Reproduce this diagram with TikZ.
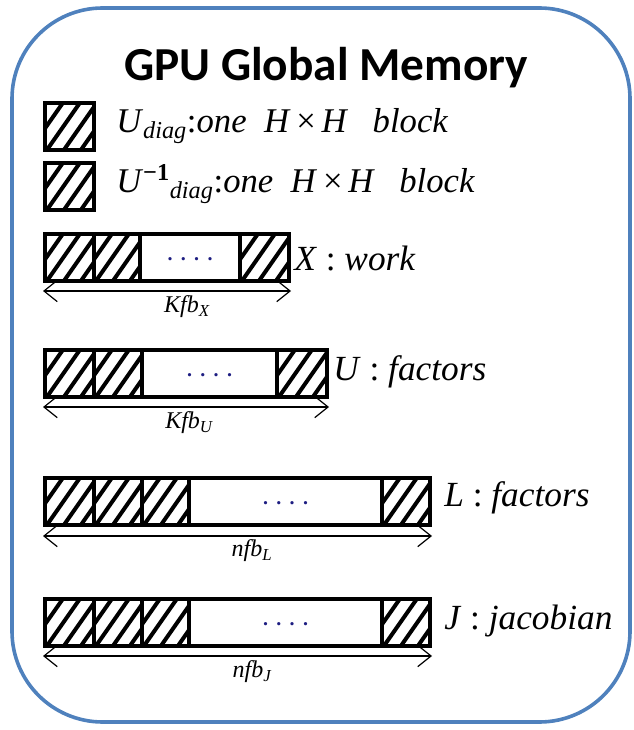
\documentclass[tikz,border=0pt]{standalone}
\usepackage{fontspec}
\setmainfont{Liberation Serif}
\newfontfamily\titlefont{Carlito}
\usetikzlibrary{arrows.meta,shadows}
\definecolor{frameblue}{RGB}{79,129,189}
\definecolor{dotblue}{RGB}{30,30,130}
\newcommand{\gapdots}{\raisebox{-5pt}{.\ \,.\ \,.\ \,.}}

\begin{document}
\begin{tikzpicture}[x=0.75pt,y=-0.75pt,
  cellbase/.style={draw=black, line width=3pt, inner sep=0pt, anchor=north west,
    minimum height=47*0.75pt,
    drop shadow={shadow xshift=0.8pt, shadow yshift=-1.8pt, opacity=0.22}},
  hatched/.style={cellbase, fill=white, minimum width=#1*0.75pt,
    path picture={
      \foreach \k in {-3,...,4}
        \draw[line width=3pt] ([xshift=\k*12.75pt,yshift=-2pt]path picture bounding box.south west) -- ++(28pt,40pt);
    }},
  gapbox/.style={cellbase, fill=white, minimum width=#1*0.75pt,
    font=\fontsize{15}{15}\selectfont\bfseries, text=dotblue},
  dimarrow/.style={line width=0.9pt, {Straight Barb[length=10pt,width=16pt]}-{Straight Barb[length=10pt,width=16pt]}},
  dimlabel/.style={font=\fontsize{18}{18}\selectfont\itshape, inner sep=0pt},
  rowlabel/.style={font=\fontsize{26.5}{26.5}\selectfont, anchor=west, inner sep=0pt},
  legendlabel/.style={font=\fontsize{26}{26}\selectfont, anchor=west, inner sep=0pt},
  titletext/.style={font=\titlefont\bfseries\fontsize{35.5}{35.5}\selectfont, inner sep=0pt}
]
\useasboundingbox (0,0) rectangle (633,730);

% outer memory frame
\draw[frameblue, line width=2.7pt, rounded corners=68pt] (12,8) rectangle (630,722);

\node[titletext] (title) at (326,68) {GPU Global Memory};

% legend: single diagonal blocks
\node[hatched=49] (ud) at (43,101) {};
\node[legendlabel] (udl) at (116,126) {\textit{U}\textsubscript{\textit{diag}}:\textit{one\ \ H}\,×\,\textit{H\ \ \ block}};
\node[hatched=49] (uid) at (43,161) {};
\node[legendlabel] (uidl) at (116,184) {\textit{U}\textsuperscript{\textbf{−1}}\textsubscript{\textit{diag}}:\textit{one\ \ H}\,×\,\textit{H\ \ \ block}};

% X : work
\node[hatched=49] (x1) at (43,232) {};
\node[hatched=47] (x2) at (92,232) {};
\node[hatched=49] (x4) at (238,232) {};
\node[gapbox=100] (x3) at (138,232) {\gapdots};
\node[rowlabel] (xl) at (294,258) {\textit{X} : \textit{work}};
\draw[dimarrow] (x1.south west |- 0,291) -- (x4.south east |- 0,291);
\node[dimlabel] (xd) at (187,307) {Kfb\textsubscript{X}};

% U : factors
\node[hatched=49] (u1) at (43,348) {};
\node[hatched=48] (u2) at (92,348) {};
\node[hatched=50] (u4) at (275,348) {};
\node[gapbox=135] (u3) at (140,348) {\gapdots};
\node[rowlabel] (ul) at (333,372) {\textit{U} : \textit{factors}};
\draw[dimarrow] (u1.south west |- 0,407) -- (u4.south east |- 0,407);
\node[dimlabel] (ud2) at (189,423) {Kfb\textsubscript{U}};

% L : factors
\node[hatched=49] (l1) at (43,476) {};
\node[hatched=48] (l2) at (92,476) {};
\node[hatched=47] (l3) at (140,476) {};
\node[hatched=48] (l5) at (380,476) {};
\node[gapbox=193] (l4) at (187,476) {\gapdots};
\node[rowlabel] (ll) at (444,498) {\textit{L} : \textit{factors}};
\draw[dimarrow] (l1.south west |- 0,536) -- (l5.south east |- 0,536);
\node[dimlabel] (ld) at (252,551) {nfb\textsubscript{L}};

% J : jacobian
\node[hatched=49] (j1) at (43,597) {};
\node[hatched=48] (j2) at (92,597) {};
\node[hatched=47] (j3) at (140,597) {};
\node[hatched=48] (j5) at (380,597) {};
\node[gapbox=193] (j4) at (187,597) {\gapdots};
\node[rowlabel] (jl) at (444,621) {\textit{J} : \textit{jacobian}};
\draw[dimarrow] (j1.south west |- 0,656) -- (j5.south east |- 0,656);
\node[dimlabel] (jd) at (252,672) {nfb\textsubscript{J}};
\end{tikzpicture}
\end{document}
